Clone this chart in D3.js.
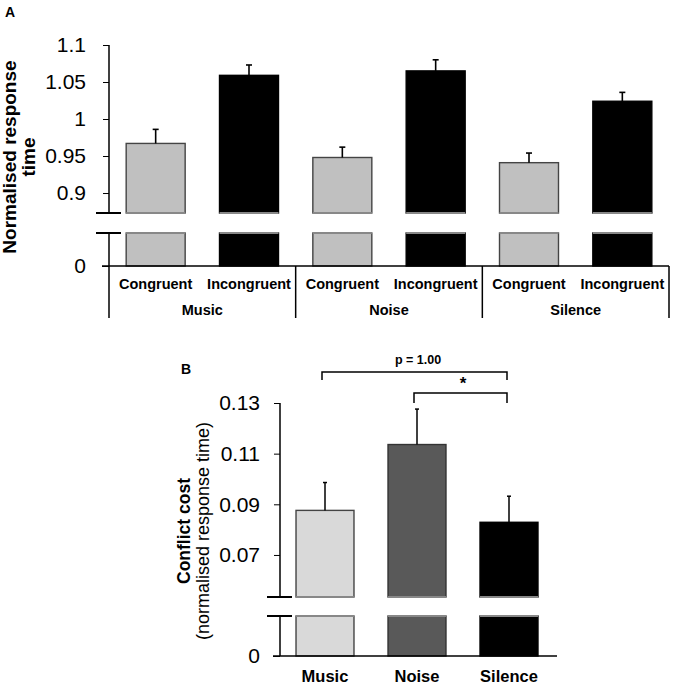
<!DOCTYPE html>
<html>
<head>
<meta charset="utf-8">
<script src="https://cdn.jsdelivr.net/npm/d3@7"></script>
<style>
  body { margin: 0; background: #fff; }
  svg { font-family: "Liberation Sans", Arial, sans-serif; }
</style>
</head>
<body>
<script>
// panel A data
const groups = ["Music", "Noise", "Silence"];
const conditions = ["Congruent", "Incongruent"];
const congruentMean = [0.967, 0.948, 0.941];
const congruentErr = [0.019, 0.014, 0.013];
const incongruentMean = [1.059, 1.065, 1.024];
const incongruentErr = [0.014, 0.015, 0.012];
const ticksA = [0.9, 0.95, 1, 1.05, 1.1];

// panel B data
const costMean = [0.0876, 0.1136, 0.0829];
const costErr = [0.011, 0.014, 0.0103];
const ticksB = [0.07, 0.09, 0.11, 0.13];

let width = 677;
let height = 687;

let svg = d3
  .select("body")
  .append("svg")
  .attr("width", width)
  .attr("height", height);

// ---------- Panel A ----------
let a = svg.append("g");

let xGroup = d3.scaleBand().domain(groups).range([109, 669]).padding(0);
let xCond = d3
  .scaleBand()
  .domain(conditions)
  .range([0, xGroup.bandwidth()])
  .paddingInner(0.368)
  .paddingOuter(0.184);

// upper part of broken axis, and stub near zero
let yA = d3.scaleLinear().domain([0.873, 1.1]).range([213, 45]);
let yA0 = d3.scaleLinear().domain([0, 1]).range([266, 233]);

let rowsA = [];
groups.forEach((g, i) => {
  rowsA.push({ group: g, cond: "Congruent", mean: congruentMean[i], err: congruentErr[i], fill: "#c0c0c0", stroke: "#444" });
  rowsA.push({ group: g, cond: "Incongruent", mean: incongruentMean[i], err: incongruentErr[i], fill: "#000", stroke: "#000" });
});

let barA = a.selectAll("g.bar").data(rowsA).enter().append("g").attr("class", "bar");
let bx = d => xGroup(d.group) + xCond(d.cond);

// upper section
barA
  .append("rect")
  .attr("x", bx)
  .attr("width", xCond.bandwidth())
  .attr("y", d => yA(d.mean))
  .attr("height", d => yA.range()[0] - yA(d.mean))
  .attr("fill", d => d.fill)
  .attr("stroke", d => d.stroke)
  .attr("stroke-width", 1.4);
barA
  .append("line")
  .attr("x1", bx)
  .attr("x2", d => bx(d) + xCond.bandwidth())
  .attr("y1", yA.range()[0])
  .attr("y2", yA.range()[0])
  .attr("stroke", "#888")
  .attr("stroke-width", 2);

// lower section
barA
  .append("rect")
  .attr("x", bx)
  .attr("width", xCond.bandwidth())
  .attr("y", yA0(1))
  .attr("height", yA0(0) - yA0(1))
  .attr("fill", d => d.fill)
  .attr("stroke", d => d.stroke)
  .attr("stroke-width", 1.4);
barA
  .append("line")
  .attr("x1", bx)
  .attr("x2", d => bx(d) + xCond.bandwidth())
  .attr("y1", yA0(1))
  .attr("y2", yA0(1))
  .attr("stroke", "#888")
  .attr("stroke-width", 2);

// error bars
barA
  .append("line")
  .attr("x1", d => bx(d) + xCond.bandwidth() / 2)
  .attr("x2", d => bx(d) + xCond.bandwidth() / 2)
  .attr("y1", d => yA(d.mean))
  .attr("y2", d => yA(d.mean + d.err))
  .attr("stroke", "#000")
  .attr("stroke-width", 1.6);
barA
  .append("line")
  .attr("x1", d => bx(d) + xCond.bandwidth() / 2 - 3)
  .attr("x2", d => bx(d) + xCond.bandwidth() / 2 + 3)
  .attr("y1", d => yA(d.mean + d.err))
  .attr("y2", d => yA(d.mean + d.err))
  .attr("stroke", "#000")
  .attr("stroke-width", 1.6);

// y axis A
let yAxisA = g =>
  g
    .attr("transform", "translate(109,0)")
    .call(d3.axisLeft(yA).tickValues(ticksA).tickSize(6).tickPadding(17).tickFormat(d => String(d)))
    .call(g => g.select(".domain").remove())
    .call(g => g.selectAll("text").attr("font-size", 21).attr("font-family", "Liberation Sans, Arial").attr("fill", "#000"));
a.append("g").call(yAxisA);

let yAxisA0 = g =>
  g
    .attr("transform", "translate(109,0)")
    .call(d3.axisLeft(yA0).tickValues([0]).tickSize(7).tickPadding(16).tickFormat(d => String(d)))
    .call(g => g.select(".domain").remove())
    .call(g => g.selectAll("text").attr("font-size", 21).attr("font-family", "Liberation Sans, Arial").attr("fill", "#000"));
a.append("g").call(yAxisA0);

// axis spine with break
a.append("line").attr("x1", 109).attr("x2", 109).attr("y1", yA(1.1)).attr("y2", yA.range()[0]).attr("stroke", "#000").attr("stroke-width", 1.5);
a.append("line").attr("x1", 109).attr("x2", 109).attr("y1", yA0(1)).attr("y2", 318).attr("stroke", "#000").attr("stroke-width", 1.5);
[yA.range()[0], yA0(1)].forEach(y => {
  a.append("line").attr("x1", 96).attr("x2", 121).attr("y1", y).attr("y2", y).attr("stroke", "#000").attr("stroke-width", 2);
});

// category axis A
a.append("line").attr("x1", 102).attr("x2", 669).attr("y1", yA0(0)).attr("y2", yA0(0)).attr("stroke", "#000").attr("stroke-width", 1.5);
groups.forEach(g => {
  let x1 = xGroup(g) + xGroup.bandwidth();
  a.append("line").attr("x1", x1).attr("x2", x1).attr("y1", yA0(0)).attr("y2", 318).attr("stroke", "#000").attr("stroke-width", 1.5);
  a.append("text")
    .attr("x", xGroup(g) + xGroup.bandwidth() / 2)
    .attr("y", 315)
    .attr("text-anchor", "middle")
    .attr("font-size", 14.5)
    .attr("font-weight", "bold")
    .text(g);
  conditions.forEach(c => {
    a.append("text")
      .attr("x", xGroup(g) + xCond(c) + xCond.bandwidth() / 2)
      .attr("y", 289)
      .attr("text-anchor", "middle")
      .attr("font-size", 14.5)
      .attr("font-weight", "bold")
      .text(c);
  });
});

// y title A
let titleA = a.append("text")
  .attr("transform", "translate(16,157) rotate(-90)")
  .attr("text-anchor", "middle")
  .attr("font-size", 19)
  .attr("font-weight", "bold");
titleA.append("tspan").attr("x", 0).attr("y", 0).text("Normalised response");
titleA.append("tspan").attr("x", 0).attr("y", 19).text("time");

a.append("text").attr("x", 5).attr("y", 17).attr("font-size", 14).attr("font-weight", "bold").text("A");

// ---------- Panel B ----------
let b = svg.append("g");

let xB = d3.scaleBand().domain(groups).range([279, 555]).paddingInner(0.37).paddingOuter(0.185);
let yB = d3.scaleLinear().domain([0.0534, 0.13]).range([597, 403]);
let yB0 = d3.scaleLinear().domain([0, 1]).range([656, 616]);
let fillB = ["#d9d9d9", "#595959", "#000"];
let strokeB = ["#444", "#333", "#000"];

let rowsB = groups.map((g, i) => ({ group: g, mean: costMean[i], err: costErr[i], fill: fillB[i], stroke: strokeB[i] }));
let barB = b.selectAll("g.bar").data(rowsB).enter().append("g").attr("class", "bar");

barB
  .append("rect")
  .attr("x", d => xB(d.group))
  .attr("width", xB.bandwidth())
  .attr("y", d => yB(d.mean))
  .attr("height", d => yB.range()[0] - yB(d.mean))
  .attr("fill", d => d.fill)
  .attr("stroke", d => d.stroke)
  .attr("stroke-width", 1.4);
barB
  .append("line")
  .attr("x1", d => xB(d.group))
  .attr("x2", d => xB(d.group) + xB.bandwidth())
  .attr("y1", yB.range()[0])
  .attr("y2", yB.range()[0])
  .attr("stroke", "#888")
  .attr("stroke-width", 2);
barB
  .append("rect")
  .attr("x", d => xB(d.group))
  .attr("width", xB.bandwidth())
  .attr("y", yB0(1))
  .attr("height", yB0(0) - yB0(1))
  .attr("fill", d => d.fill)
  .attr("stroke", d => d.stroke)
  .attr("stroke-width", 1.4);
barB
  .append("line")
  .attr("x1", d => xB(d.group))
  .attr("x2", d => xB(d.group) + xB.bandwidth())
  .attr("y1", yB0(1))
  .attr("y2", yB0(1))
  .attr("stroke", "#888")
  .attr("stroke-width", 2);
barB
  .append("line")
  .attr("x1", d => xB(d.group) + xB.bandwidth() / 2)
  .attr("x2", d => xB(d.group) + xB.bandwidth() / 2)
  .attr("y1", d => yB(d.mean))
  .attr("y2", d => yB(d.mean + d.err))
  .attr("stroke", "#000")
  .attr("stroke-width", 1.5);
barB
  .append("line")
  .attr("x1", d => xB(d.group) + xB.bandwidth() / 2 - 2)
  .attr("x2", d => xB(d.group) + xB.bandwidth() / 2 + 2)
  .attr("y1", d => yB(d.mean + d.err))
  .attr("y2", d => yB(d.mean + d.err))
  .attr("stroke", "#000")
  .attr("stroke-width", 1.5);

let yAxisB = g =>
  g
    .attr("transform", "translate(280,0)")
    .call(d3.axisLeft(yB).tickValues(ticksB).tickSize(6).tickPadding(14).tickFormat(d => String(d)))
    .call(g => g.select(".domain").remove())
    .call(g => g.selectAll("text").attr("font-size", 21).attr("font-family", "Liberation Sans, Arial").attr("fill", "#000"));
b.append("g").call(yAxisB);

let yAxisB0 = g =>
  g
    .attr("transform", "translate(280,0)")
    .call(d3.axisLeft(yB0).tickValues([0]).tickSize(7).tickPadding(13).tickFormat(d => String(d)))
    .call(g => g.select(".domain").remove())
    .call(g => g.selectAll("text").attr("font-size", 21).attr("font-family", "Liberation Sans, Arial").attr("fill", "#000"));
b.append("g").call(yAxisB0);

b.append("line").attr("x1", 280).attr("x2", 280).attr("y1", yB(0.13)).attr("y2", yB.range()[0]).attr("stroke", "#000").attr("stroke-width", 1.5);
b.append("line").attr("x1", 280).attr("x2", 280).attr("y1", yB0(1)).attr("y2", yB0(0)).attr("stroke", "#000").attr("stroke-width", 1.5);
[yB.range()[0], yB0(1)].forEach(y => {
  b.append("line").attr("x1", 267).attr("x2", 292).attr("y1", y).attr("y2", y).attr("stroke", "#000").attr("stroke-width", 2);
});
b.append("line").attr("x1", 273).attr("x2", 557).attr("y1", yB0(0)).attr("y2", yB0(0)).attr("stroke", "#000").attr("stroke-width", 1.5);

b.selectAll("text.cat")
  .data(groups)
  .enter()
  .append("text")
  .attr("class", "cat")
  .attr("x", d => xB(d) + xB.bandwidth() / 2)
  .attr("y", 682)
  .attr("text-anchor", "middle")
  .attr("font-size", 16.5)
  .attr("font-weight", "bold")
  .text(d => d);

let titleB = b.append("text")
  .attr("transform", "translate(190,531) rotate(-90)")
  .attr("text-anchor", "middle")
  .attr("font-size", 17.5);
titleB.append("tspan").attr("x", 0).attr("y", 0).attr("font-weight", "bold").text("Conflict cost");
titleB.append("tspan").attr("x", 0).attr("y", 19).attr("font-size", 18).text("(normalised response time)");

b.append("text").attr("x", 181).attr("y", 374).attr("font-size", 14).attr("font-weight", "bold").text("B");

// significance brackets
let cx = g => xB(g) + xB.bandwidth() / 2;
let bracket = (g1, g2, top, drop) =>
  b.append("path")
    .attr("d", `M${cx(g1) - 3},${top + drop}V${top}H${cx(g2) - 2}V${top + drop}`)
    .attr("fill", "none")
    .attr("stroke", "#000")
    .attr("stroke-width", 1.5);
bracket("Music", "Silence", 372, 8);
bracket("Noise", "Silence", 393, 10);
b.append("text").attr("x", 418).attr("y", 364).attr("text-anchor", "middle").attr("font-size", 12.5).attr("font-weight", "bold").text("p = 1.00");
b.append("text").attr("x", 463).attr("y", 389).attr("text-anchor", "middle").attr("font-size", 17).attr("font-weight", "bold").text("*");
</script>
</body>
</html>
